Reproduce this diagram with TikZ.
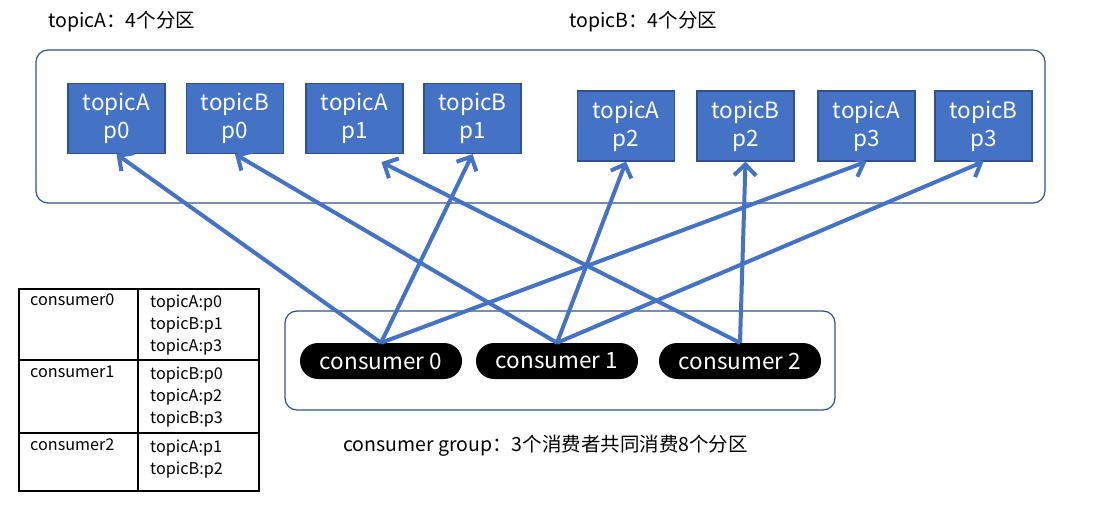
\documentclass[tikz,border=0pt]{standalone}
\usepackage{fontspec}
\setmainfont{Noto Sans CJK SC}
\usetikzlibrary{arrows.meta, positioning, calc}
\definecolor{kfBlue}{RGB}{68,114,196}
\definecolor{kfEdge}{RGB}{47,82,143}

\begin{document}
\begin{tikzpicture}[
    x=1pt, y=-1pt,
    part/.style={draw=kfEdge, line width=1.2pt, fill=kfBlue, text=white,
                 align=center, minimum width=97pt, minimum height=70pt,
                 inner sep=0pt, font=\fontsize{22.5}{28}\selectfont},
    consumer/.style={fill=black, text=white, rounded corners=18pt,
                 minimum width=162pt, minimum height=36pt, inner sep=0pt,
                 font=\fontsize{22.5}{26}\selectfont},
    group/.style={draw=kfEdge, line width=1.2pt, rounded corners=12pt,
                 inner sep=0pt},
    title/.style={anchor=west, inner sep=0pt, font=\fontsize{19.5}{22}\selectfont},
    cell/.style={anchor=north west, inner sep=0pt, align=left,
                 font=\fontsize{16.2}{22}\selectfont},
    arr/.style={draw=kfBlue, line width=4pt,
                -{Straight Barb[length=11pt, width=22pt, line width=4pt]}}
]
\useasboundingbox (0,0) rectangle (1114,532);

% --- Titles and the two group frames.
\node[title] (titA) at (48,22)  {topicA：4个分区};
\node[title] (titB) at (569,22) {topicB：4个分区};

\node[group, minimum width=1009pt, minimum height=153pt] (broker) at (540.5,126.5) {};
\node[group, minimum width=550pt,  minimum height=99pt]  (cgroup) at (560,360.5)  {};

% --- Partitions: left four a little higher than right four.
\node[part] (pA0) at (116.5,118.5) {topicA\\p0};
\node[part] (pB0) at (235,118.5)   {topicB\\p0};
\node[part] (pA1) at (354.5,118.5) {topicA\\p1};
\node[part] (pB1) at (472.5,118.5) {topicB\\p1};

\node[part] (pA2) at (626,126)   {topicA\\p2};
\node[part] (pB2) at (745.5,126) {topicB\\p2};
\node[part] (pA3) at (866.5,126) {topicA\\p3};
\node[part] (pB3) at (983.5,126) {topicB\\p3};

% --- Consumers.
\node[consumer] (c0) at (381,361) {consumer 0};
\node[consumer] (c1) at (557,361) {consumer 1};
\node[consumer] (c2) at (740,361) {consumer 2};

\node[title] (cap) at (343,446) {consumer group：3个消费者共同消费8个分区};

% --- Assignment arrows (consumer -> partition).
\draw[arr] (c0.north) -- (pA0.south);
\draw[arr] (c0.north) -- (pB1.south);
\draw[arr] (c0.north) -- (pA3.south);

\draw[arr] (c1.north) -- (pB0.south);
\draw[arr] (c1.north) -- (pA2.south);
\draw[arr] (c1.north) -- (pB3.south);

\draw[arr] (c2.north) -- ([xshift=27pt,yshift=-8pt]pA1.south);
\draw[arr] (c2.north) -- (pB2.south);

% --- Assignment table.
\draw[line width=1.8pt] (19,289) rectangle (259,491);
\draw[line width=1.8pt] (138,289) -- (138,491);
\draw[line width=1.8pt] (19,360) -- (259,360);
\draw[line width=1.8pt] (19,433) -- (259,433);

\node[cell] (n0) at (30,294)  {consumer0};
\node[cell] (a0) at (150,295) {topicA:p0\\topicB:p1\\topicA:p3};
\node[cell] (n1) at (30,366)  {consumer1};
\node[cell] (a1) at (150,367) {topicB:p0\\topicA:p2\\topicB:p3};
\node[cell] (n2) at (30,439)  {consumer2};
\node[cell] (a2) at (150,440) {topicA:p1\\topicB:p2};

\end{tikzpicture}
\end{document}
